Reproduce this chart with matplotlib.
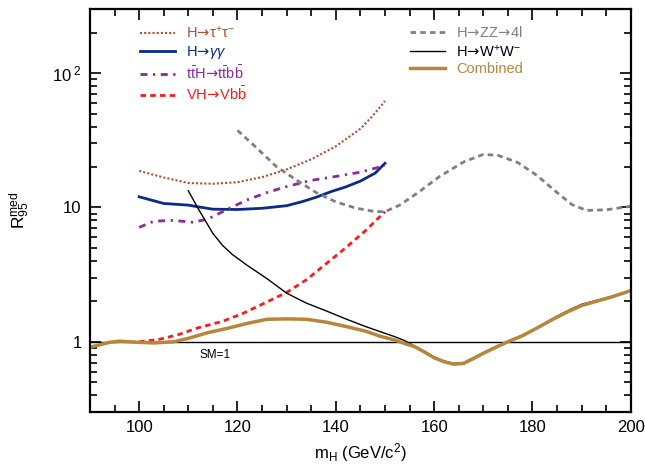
import matplotlib
matplotlib.use("Agg")
from matplotlib import pyplot as plt
from matplotlib.ticker import FixedLocator, LogLocator, NullFormatter

plt.rcParams['font.family'] = ['Liberation Sans', 'DejaVu Sans']
plt.rcParams['mathtext.fontset'] = 'custom'
plt.rcParams['mathtext.rm'] = 'Liberation Sans'
plt.rcParams['mathtext.it'] = 'Liberation Sans:italic'
plt.rcParams['mathtext.bf'] = 'Liberation Sans:bold'
plt.rcParams['mathtext.sf'] = 'DejaVu Sans'

# Expected 95% CL limits / SM
tau_mass = [100, 105, 110, 115, 120, 125, 130, 135, 140, 145, 147.5, 150]
tau_r = [18.7, 16.7, 15.2, 15.0, 15.4, 16.8, 19.2, 22.8, 28.5, 38.5, 48.0, 62.0]

gg_mass = [100, 105, 110, 112, 115, 120, 125, 130, 133, 136, 139, 142, 145, 148, 150]
gg_r = [12.0, 10.7, 10.4, 10.1, 9.7, 9.65, 9.85, 10.3, 11.0, 11.9, 13.1, 14.2, 15.7, 18.0, 21.3]

tth_mass = [100, 103, 107, 111, 114, 118, 122, 126, 130, 135, 140, 145, 150]
tth_r = [7.1, 7.9, 8.0, 7.75, 8.2, 9.7, 11.4, 12.9, 14.3, 15.9, 17.0, 18.3, 20.5]

vh_mass = [100, 104, 108, 112, 117, 121, 125, 130, 134, 138, 142, 146, 150]
vh_r = [1.0, 1.04, 1.13, 1.27, 1.42, 1.62, 1.9, 2.33, 2.89, 3.8, 5.0, 6.7, 9.3]

zz_mass = [120, 124, 128, 132, 136, 140, 144, 148, 150, 153, 157, 161, 166, 170, 173,
           177, 181, 185, 188, 191, 195, 200]
zz_r = [37.5, 27.5, 20.0, 16.0, 12.9, 11.0, 9.9, 9.3, 9.3, 10.4, 13.1, 16.9, 21.8, 24.8, 24.4,
        21.6, 17.2, 12.9, 10.5, 9.5, 9.6, 10.2]

ww_mass = [110, 112, 115, 117, 119, 122, 126, 130, 134, 138, 142, 146, 149, 152, 154, 156,
           158, 160, 162, 164, 166, 168, 170, 172, 175, 178, 181, 184, 187, 190, 193, 196, 200]
ww_r = [13.3, 9.8, 6.4, 5.2, 4.45, 3.7, 2.95, 2.3, 1.94, 1.7, 1.48, 1.3, 1.19, 1.09, 1.02, 0.93,
        0.85, 0.77, 0.72, 0.69, 0.70, 0.76, 0.83, 0.90, 1.01, 1.12, 1.28, 1.48, 1.69, 1.90, 2.03,
        2.17, 2.42]

comb_mass = [90, 94, 96, 100, 103, 107, 110, 114, 118, 122, 126, 130, 134, 138, 142, 146, 149,
             152, 154, 156, 158, 160, 162, 164, 166, 168, 170, 172, 175, 178, 181, 184, 187, 190,
             193, 196, 200]
comb_r = [0.91, 0.99, 1.01, 0.99, 0.98, 1.0, 1.06, 1.17, 1.26, 1.37, 1.47, 1.48, 1.47, 1.40, 1.30,
          1.20, 1.10, 1.03, 0.97, 0.92, 0.84, 0.76, 0.71, 0.68, 0.69, 0.75, 0.82, 0.89, 1.0, 1.11,
          1.27, 1.46, 1.66, 1.86, 2.0, 2.15, 2.40]

# arrow taken from DejaVu (Liberation's one is tiny), relation spacing removed
ARROW = r"$\!\mathsf{\rightarrow}\!$"

fig = plt.figure(figsize=(6.45, 4.66), dpi=100)
ax = fig.add_axes([0.1395, 0.1159, 0.8385, 0.8648])

ax.axhline(1.0, color="black", lw=1.0, zorder=1)

l_tau, = ax.plot(tau_mass, tau_r, color="#b0502f", lw=1.5, ls=(0, (1, 1)),
                 label="H" + ARROW + "τ$^{+}$τ$^{-}$")
l_gg, = ax.plot(gg_mass, gg_r, color="#0a2a8c", lw=2.0, label="H" + ARROW + r"$\gamma\gamma$")
l_tth, = ax.plot(tth_mass, tth_r, color="#8a2a9c", lw=2.0, ls=(0, (2.5, 2, 0.8, 2)),
                 label=r"t$\bar{\mathrm{t}}$H" + ARROW + r"t$\bar{\mathrm{t}}$b$\bar{\mathrm{b}}$")
l_vh, = ax.plot(vh_mass, vh_r, color="#ff1a1a", lw=2.0, ls=(0, (2, 1.5)),
                label="VH" + ARROW + r"Vb$\bar{\mathrm{b}}$")
l_zz, = ax.plot(zz_mass, zz_r, color="#808080", lw=2.0, ls=(0, (2, 1.5)),
                label="H" + ARROW + "ZZ" + ARROW + "4l")
l_ww, = ax.plot(ww_mass, ww_r, color="black", lw=1.0, label="H" + ARROW + "W$^{+}$W$^{-}$")
l_comb, = ax.plot(comb_mass, comb_r, color="#b8863b", lw=2.5, label="Combined")

ax.set_yscale("log")
ax.set_xlim(90, 200)
ax.set_ylim(0.3, 300)

# Ticks: inward, on all four sides
ax.xaxis.set_major_locator(FixedLocator([100, 120, 140, 160, 180, 200]))
ax.xaxis.set_minor_locator(FixedLocator(range(90, 201, 5)))
ax.set_yticks([1, 10, 100])
ax.set_yticklabels(["1", "10", r"10$^{\ 2}$"])
ax.yaxis.set_minor_locator(LogLocator(base=10, subs=range(2, 10)))
ax.yaxis.set_minor_formatter(NullFormatter())
ax.tick_params(which="both", direction="in", top=True, right=True, labelsize=12, width=1.2)
ax.tick_params(which="major", length=8, pad=6)
ax.tick_params(which="minor", length=5)
for spine in ax.spines.values():
    spine.set_linewidth(1.6)

ax.set_xlabel(r"m$_{\mathrm{H}}$ (GeV/c$^{2}$)", fontsize=12)
ax.set_ylabel(r"R$^{\mathrm{med}}_{95}$", fontsize=12.5)
ax.yaxis.set_label_coords(-0.107, 0.5)

ax.text(112.2, 0.80, "SM=1", fontsize=8.5, va="center", ha="left")

leg_kw = dict(loc="upper left", frameon=False, fontsize=10.5, handlelength=2.4,
              handletextpad=0.75, labelspacing=0.22, borderaxespad=0.0, labelcolor="linecolor")
leg1 = ax.legend(handles=[l_tau, l_gg, l_tth, l_vh], bbox_to_anchor=(0.082, 0.975), **leg_kw)
ax.add_artist(leg1)
ax.legend(handles=[l_zz, l_ww, l_comb], bbox_to_anchor=(0.581, 0.975), **leg_kw)

fig.savefig("out.png", dpi=100)
plt.close(fig)
